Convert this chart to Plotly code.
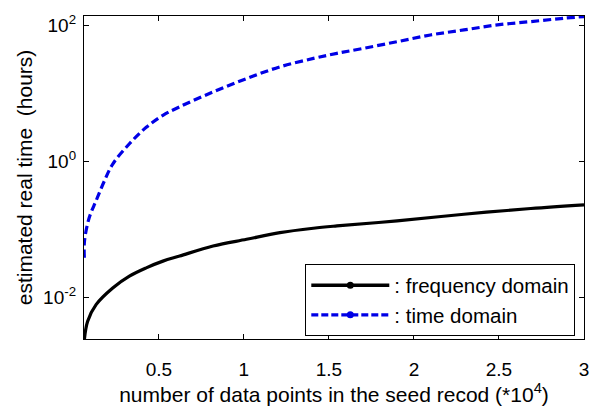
import plotly.graph_objects as go

# Data (x in units of 10^4 points, y in hours)
x_time = [0.062, 0.063, 0.091, 0.131, 0.180, 0.229, 0.327, 0.426, 0.524, 0.622, 0.819,
          1.016, 1.212, 1.409, 1.547, 1.704, 1.901, 2.097, 2.294, 2.491, 2.687, 2.883, 3.0]
y_time = [0.0384, 0.068, 0.15, 0.265, 0.52, 0.92, 1.83, 3.2, 4.8, 6.4, 10.6,
          16.7, 24.8, 33.0, 39.2, 46.5, 58.2, 73.1, 86.7, 102.8, 115.0, 129.0, 136.0]

x_freq = [0.062, 0.081, 0.131, 0.229, 0.327, 0.426, 0.524, 0.622, 0.819, 1.016,
          1.212, 1.409, 1.547, 1.901, 2.294, 2.687, 3.0]
y_freq = [0.00238, 0.00445, 0.00785, 0.0138, 0.0206, 0.0273, 0.0343, 0.0407, 0.0572, 0.0719,
          0.090, 0.1045, 0.113, 0.134, 0.168, 0.204, 0.231]

x_ticks = [0.5, 1, 1.5, 2, 2.5, 3]
x_ticklabels = ["0.5", "1", "1.5", "2", "2.5", "3"]
y_ticks = [0.01, 1, 100]
y_ticklabels = ["10<sup>-2</sup>", "10<sup>0</sup>", "10<sup>2</sup>"]

FONT = "Liberation Sans, Arial, sans-serif"
BLUE = "#0000e6"

fig = go.Figure()
fig.add_trace(go.Scatter(x=x_freq, y=y_freq, mode="lines", line=dict(color="black", width=3.2, shape="spline"),
                         showlegend=False))
fig.add_trace(go.Scatter(x=x_time, y=y_time, mode="lines",
                         line=dict(color=BLUE, width=3.2, dash="8px,4px", shape="spline"),
                         showlegend=False))
# legend entries (line with marker, as in the reference legend)
fig.add_trace(go.Scatter(x=[None], y=[None], mode="lines+markers", name=": frequency domain",
                         line=dict(color="black", width=3.4), marker=dict(color="black", size=7)))
fig.add_trace(go.Scatter(x=[None], y=[None], mode="lines+markers", name=": time domain",
                         line=dict(color=BLUE, width=3.4, dash="7px,3px"), marker=dict(color=BLUE, size=7)))

# The page body adds an 8px offset, so the figure is 8px smaller and margins are shifted.
fig.update_layout(
    width=594, height=405,
    margin=dict(l=76, r=18, t=8, b=74, autoexpand=False),
    paper_bgcolor="white", plot_bgcolor="white",
    font=dict(family=FONT, size=19, color="black"),
    legend=dict(x=0.442, y=0.232, xanchor="left", yanchor="top",
                bordercolor="black", borderwidth=1.3, bgcolor="white",
                font=dict(size=20.5), tracegroupgap=0, itemwidth=78),
)
fig.update_xaxes(range=[0.06, 3.0], tickvals=x_ticks, ticktext=x_ticklabels, automargin=False,
                 ticks="inside", ticklen=5, tickcolor="black", tickwidth=1,
                 showline=True, linecolor="black", linewidth=1.3, mirror="ticks",
                 showgrid=False, zeroline=False, ticklabelstandoff=13,
                 title=dict(text="number of data points in the seed recod (*10<sup>4</sup>)",
                            font=dict(family=FONT, size=21), standoff=5))
fig.update_yaxes(type="log", range=[-2.611, 2.143], tickvals=y_ticks, ticktext=y_ticklabels, automargin=False,
                 ticks="inside", ticklen=5, tickcolor="black", tickwidth=1,
                 showline=True, linecolor="black", linewidth=1.3, mirror="ticks",
                 showgrid=False, zeroline=False, ticklabelstandoff=3,
                 title=dict(text="estimated real time  (hours)\u00a0\u00a0\u00a0",
                            font=dict(family=FONT, size=21), standoff=4))

fig.write_html("out.html")
